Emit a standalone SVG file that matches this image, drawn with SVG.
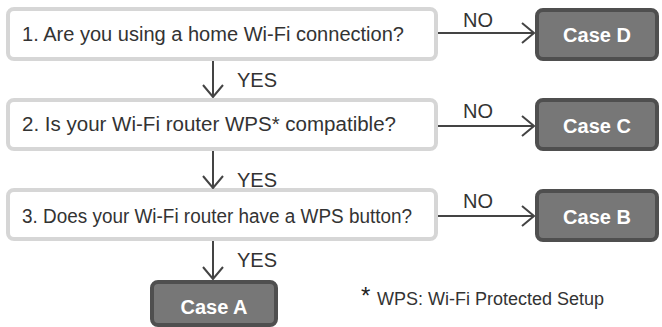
<svg xmlns="http://www.w3.org/2000/svg" width="662" height="327" viewBox="0 0 662 327">
<style>
.q rect{fill:#fff;stroke:#d6d6d6;stroke-width:4}
.q text{font-family:"Liberation Sans",Arial,sans-serif;font-size:20px;fill:#333}
.c rect{fill:#777;stroke:#4f4f4f;stroke-width:4}
.c text{font-family:"Liberation Sans",Arial,sans-serif;font-size:20px;font-weight:bold;fill:#fff;text-anchor:middle}
.lbl{font-family:"Liberation Sans",Arial,sans-serif;font-size:20px;fill:#333}
.edge{stroke:#444;stroke-width:2;fill:none;marker-end:url(#arr)}
</style>
<defs>
<marker id="arr" markerUnits="userSpaceOnUse" viewBox="0 0 14 22" refX="13" refY="11" markerWidth="14" markerHeight="22" orient="auto">
<path d="M1,1 L13,11 L1,21" fill="none" stroke="#444" stroke-width="2"/>
</marker>
</defs>
<g id="q1" class="q"><rect x="8" y="9" width="428" height="50" rx="6"/><text x="22" y="41" textLength="382" lengthAdjust="spacingAndGlyphs">1. Are you using a home Wi-Fi connection?</text></g>
<g id="q2" class="q"><rect x="8" y="100" width="428" height="49" rx="6"/><text x="22" y="131" textLength="374" lengthAdjust="spacingAndGlyphs">2. Is your Wi-Fi router WPS* compatible?</text></g>
<g id="q3" class="q"><rect x="8" y="190" width="428" height="49" rx="6"/><text x="22" y="223" textLength="390" lengthAdjust="spacingAndGlyphs">3. Does your Wi-Fi router have a WPS button?</text></g>
<g id="caseD" class="c"><rect x="537" y="10" width="120" height="49" rx="6"/><text x="597" y="42">Case D</text></g>
<g id="caseC" class="c"><rect x="537" y="100" width="120" height="49" rx="6"/><text x="597" y="133">Case C</text></g>
<g id="caseB" class="c"><rect x="537" y="191" width="120" height="49" rx="6"/><text x="597" y="224">Case B</text></g>
<g id="caseA" class="c"><rect x="152" y="282" width="124" height="43" rx="6"/><text x="214" y="314">Case A</text></g>
<g id="connectors">
<line class="edge" x1="438" y1="33" x2="534" y2="33"/>
<line class="edge" x1="438" y1="126" x2="534" y2="126"/>
<line class="edge" x1="438" y1="216" x2="534" y2="216"/>
<line class="edge" x1="213" y1="61" x2="213" y2="97"/>
<line class="edge" x1="213" y1="151" x2="213" y2="188"/>
<line class="edge" x1="213" y1="241" x2="213" y2="279"/>
<text class="lbl" x="463" y="27">NO</text>
<text class="lbl" x="463" y="118">NO</text>
<text class="lbl" x="463" y="208">NO</text>
<text class="lbl" x="237" y="87">YES</text>
<text class="lbl" x="237" y="187">YES</text>
<text class="lbl" x="237" y="267">YES</text>
</g>
<g id="footnote">
<text x="361" y="304" font-family="Liberation Sans, Arial, sans-serif" font-size="24" fill="#222">*</text>
<text x="377" y="305" font-family="Liberation Sans, Arial, sans-serif" font-size="18" fill="#333">WPS: Wi-Fi Protected Setup</text>
</g>
</svg>
